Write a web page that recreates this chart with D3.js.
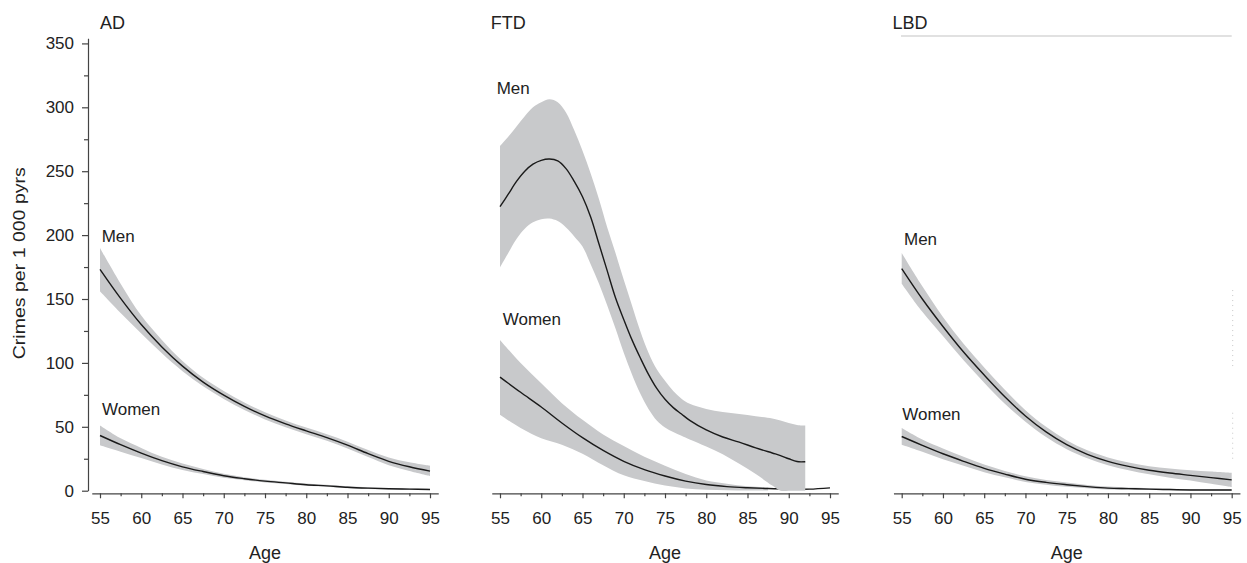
<!DOCTYPE html>
<html>
<head>
<meta charset="utf-8">
<script src="https://cdn.jsdelivr.net/npm/d3@7"></script>
<style>
  body { margin: 0; background: #fff; }
  svg { display: block; font-family: "Liberation Sans", Arial, sans-serif; }
  .axis path, .axis line { stroke: #444; stroke-width: 1.2; }
  .axis text { fill: #222; font-size: 17px; font-family: "Liberation Sans", Arial, sans-serif; }
</style>
</head>
<body>
<div id="chart"></div>
<script>
// Crime rates per 1 000 person-years by age, with confidence bands

const panelTitles = ["AD", "FTD", "LBD"];
const xTicks = [55, 60, 65, 70, 75, 80, 85, 90, 95];
const xMinor = [57.5, 62.5, 67.5, 72.5, 77.5, 82.5, 87.5, 92.5];
const yTicks = [0, 50, 100, 150, 200, 250, 300, 350];
const yMinor = [25, 75, 125, 175, 225, 275, 325];

const ages = [55, 57.5, 60, 62.5, 65, 67.5, 70, 72.5, 75, 77.5, 80, 82.5, 85, 87.5, 90, 92.5, 95];

// AD
const adMen    = [173.2, 150.5, 130, 112.5, 97.5, 85, 74.8, 66, 58.5, 52.3, 46.8, 41.5, 35.6, 29, 23, 18.7, 15.3];
const adMenHi  = [190, 162, 137, 118, 101.5, 88.3, 78, 69, 61.3, 55, 49.4, 44.2, 38.4, 31.8, 26, 22.2, 19.5];
const adMenLo  = [156, 139, 123, 107.5, 93.5, 81.7, 71.8, 63.2, 55.8, 49.7, 44.2, 39, 33, 26.3, 20, 15.4, 11.5];
const adWomen   = [43.2, 36, 29.4, 23.5, 18.7, 15, 11.7, 9.4, 7.5, 6.1, 4.7, 3.8, 2.7, 2, 1.5, 1.2, 0.9];
const adWomenHi = [51, 41, 33.5, 26.5, 21.2, 17, 13.2, 10.6, 8.6, 7, 5.6, 4.6, 3.4, 2.7, 2.1, 1.7, 1.4];
const adWomenLo = [35.6, 30.5, 25.5, 20.5, 16.2, 13, 10.2, 8.2, 6.4, 5.2, 3.8, 3, 2, 1.3, 0.9, 0.7, 0.4];

// FTD
const ftdMenAges = [55, 56, 57, 58, 59, 60, 61, 62, 63, 64, 65, 66, 67, 68, 69, 70, 71, 72, 73, 74, 75, 76, 77, 78, 80, 82, 84, 86, 88, 89, 90, 91, 92];
const ftdMen   = [222.2, 232, 242, 250, 255.5, 258.5, 259.5, 258, 252, 242, 230, 214, 193, 172, 151, 134, 118, 104, 91, 80, 71.5, 65, 60, 55, 47.5, 42, 38, 33.5, 29.5, 27.5, 25, 22.8, 22.7];
const ftdMenHi = [269.7, 277, 285, 293, 300, 304, 306.3, 304, 296, 282, 266, 248, 228, 206, 186, 165, 145, 125, 108, 95, 86, 78, 72, 68, 64, 61.5, 60, 58.3, 56.5, 55, 53, 51.5, 51];
const ftdMenLo = [174.7, 186, 197, 205, 210, 212.5, 213, 211, 206, 199, 191, 177, 162, 145, 127, 108, 91, 76, 64, 55, 49.5, 46, 43, 40, 34.5, 28.5, 21, 13, 4, 0, 0, 0, 0];
const ftdWomenAges = [55, 57.5, 60, 62.5, 65, 67.5, 70, 72.5, 75, 77.5, 80, 82.5, 85, 87.5];
const ftdWomen   = [88.9, 77, 65.5, 53, 41.5, 31.5, 23, 16.5, 11.5, 7.5, 4.8, 3.2, 2.3, 1.7, 1.3, 1.2, 2.2];
const ftdWomenHi = [118, 100, 84, 68.5, 55.5, 44, 35, 26.5, 19.5, 13, 8, 5.5, 3.5, 2.5];
const ftdWomenLo = [59.5, 49, 41, 36, 29, 20, 12, 7.5, 4, 1.8, 0.8, 0.4, 0.2, 0.1];

// LBD
const lbdMen   = [173.8, 150, 128.5, 108.5, 90.5, 73.5, 58.5, 46, 36, 28.5, 23, 19, 16, 13.8, 12, 10.2, 8.5];
const lbdMenHi = [186, 160, 136, 115, 96.5, 79, 63, 50, 39.5, 31.6, 26, 22, 19.2, 17.4, 16, 15, 14];
const lbdMenLo = [162, 140, 121, 102, 84.5, 68, 54, 42, 32.5, 25.4, 20, 16, 12.8, 10.2, 8, 5.4, 2.8];
const lbdWomen   = [42.4, 35.5, 28.9, 23, 17.5, 13, 9, 6.5, 4.7, 3.2, 2, 1.6, 1.2, 0.9, 0.6, 0.5, 0.5];
const lbdWomenHi = [49, 40, 33, 26.5, 20.5, 15.5, 11.3, 8.3, 6.5, 4.5, 3.2, 2.5, 2, 1.6, 1.3, 1.1, 1];
const lbdWomenLo = [36, 30.5, 24.6, 19.5, 14.5, 10.5, 6.8, 4.7, 3, 2, 1, 0.7, 0.5, 0.4, 0.3, 0.2, 0.2];

function zipBand(a, hi, lo) { return a.map((d, i) => ({ age: d, hi: hi[i], lo: lo[i] })); }
function zipLine(a, v) { return a.map((d, i) => ({ age: d, v: v[i] })); }

const panels = [
  { men: zipLine(ages, adMen), menBand: zipBand(ages, adMenHi, adMenLo),
    women: zipLine(ages, adWomen), womenBand: zipBand(ages, adWomenHi, adWomenLo) },
  { men: zipLine(ftdMenAges, ftdMen), menBand: zipBand(ftdMenAges, ftdMenHi, ftdMenLo),
    women: zipLine(ages, ftdWomen), womenBand: zipBand(ftdWomenAges, ftdWomenHi, ftdWomenLo) },
  { men: zipLine(ages, lbdMen), menBand: zipBand(ages, lbdMenHi, lbdMenLo),
    women: zipLine(ages, lbdWomen), womenBand: zipBand(ages, lbdWomenHi, lbdWomenLo) }
];

// layout
const W = 1247, H = 563;
const panelLeft = [91.75, 491.75, 893.45];
const panelW = 346.5;
const axisY = 493.3;
// label offsets (px) relative to x(55), baselines
const menLabel   = [[1.7, 242], [-3.3, 94], [2.3, 244.5]];
const womenLabel = [[2, 415], [2.7, 325], [0.6, 420.4]];

const BAND = "#c8c9cb", LINE = "#1a1a1a", TEXT = "#222";

const svg = d3.select("#chart").append("svg")
  .attr("width", W).attr("height", H);
svg.append("rect").attr("width", W).attr("height", H).attr("fill", "#fff");

const y = d3.scaleLinear().domain([0, 354]).range([490.7, 38.3]);

// y axis (only on first panel)
svg.append("g").attr("class", "axis")
  .attr("transform", "translate(88,0)")
  .call(d3.axisLeft(y).tickValues(yTicks).tickSize(6).tickSizeOuter(0).tickPadding(8));
svg.append("g").attr("class", "axis")
  .attr("transform", "translate(88,0)")
  .call(d3.axisLeft(y).tickValues(yMinor).tickSize(4).tickFormat(""))
  .select(".domain").remove();

svg.append("text")
  .attr("transform", "translate(25," + y(178) + ") rotate(-90)")
  .attr("text-anchor", "middle")
  .attr("font-size", "17px")
  .attr("fill", TEXT)
  .attr("textLength", 192)
  .attr("lengthAdjust", "spacingAndGlyphs")
  .text("Crimes per 1 000 pyrs");

panels.forEach(function(p, i){
  const x = d3.scaleLinear().domain([54, 96]).range([panelLeft[i], panelLeft[i] + panelW]);
  const g = svg.append("g");

  const area = d3.area().curve(d3.curveCatmullRom.alpha(0.5))
    .x(d => x(d.age)).y0(d => y(d.lo)).y1(d => y(d.hi));
  const line = d3.line().curve(d3.curveCatmullRom.alpha(0.5))
    .x(d => x(d.age)).y(d => y(d.v));

  // women first, men band on top (FTD overlap near 90)
  g.append("path").datum(p.womenBand).attr("d", area).attr("fill", BAND);
  g.append("path").datum(p.women).attr("d", line)
    .attr("fill", "none").attr("stroke", LINE).attr("stroke-width", 1.4);
  g.append("path").datum(p.menBand).attr("d", area).attr("fill", BAND);
  g.append("path").datum(p.men).attr("d", line)
    .attr("fill", "none").attr("stroke", LINE).attr("stroke-width", 1.4);

  // x axis
  svg.append("g").attr("class", "axis")
    .attr("transform", "translate(0," + axisY + ")")
    .call(d3.axisBottom(x).tickValues(xTicks).tickSize(5).tickSizeOuter(0).tickPadding(14));
  svg.append("g").attr("class", "axis")
    .attr("transform", "translate(0," + axisY + ")")
    .call(d3.axisBottom(x).tickValues(xMinor).tickSize(3).tickFormat(""))
    .select(".domain").remove();

  svg.append("text")
    .attr("x", x(75)).attr("y", 558.5)
    .attr("text-anchor", "middle")
    .attr("font-size", "18px").attr("fill", TEXT)
    .text("Age");

  // panel title
  svg.append("text")
    .attr("x", i == 0 ? x(55) : x(54) - 1).attr("y", 29)
    .attr("font-size", "18px").attr("fill", TEXT)
    .text(panelTitles[i]);

  svg.append("text")
    .attr("x", x(55) + menLabel[i][0]).attr("y", menLabel[i][1])
    .attr("font-size", "17px").attr("fill", TEXT)
    .text("Men");
  svg.append("text")
    .attr("x", x(55) + womenLabel[i][0]).attr("y", womenLabel[i][1])
    .attr("font-size", "17px").attr("fill", TEXT)
    .text("Women");

  if(i == 2){
    // thin grey rule over the LBD panel
    svg.append("line")
      .attr("x1", x(55) - 0.7).attr("x2", x(95))
      .attr("y1", 36).attr("y2", 36)
      .attr("stroke", "#c4c4c4").attr("stroke-width", 1.2);
    // faint dotted trace at the right edge
    [[157, 97], [61, 22]].forEach(function(s){
      svg.append("line")
        .attr("x1", x(95) + 1).attr("x2", x(95) + 1)
        .attr("y1", y(s[0])).attr("y2", y(s[1]))
        .attr("stroke", "#c8c8c8").attr("stroke-width", 1)
        .attr("stroke-dasharray", "1,4");
    });
  }
});
</script>
</body>
</html>
